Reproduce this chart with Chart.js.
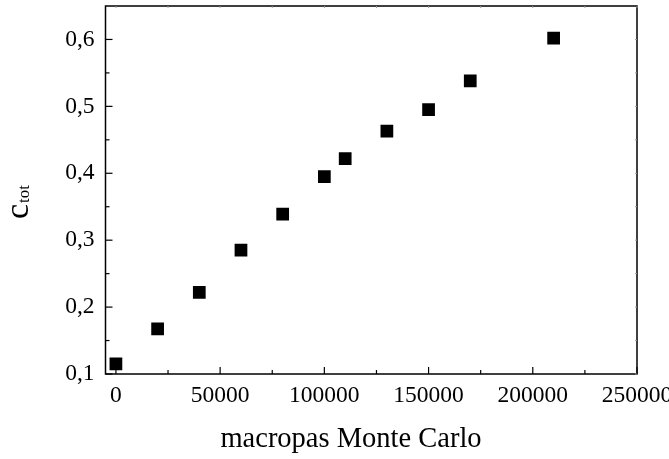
<!DOCTYPE html>
<html>
<head>
    <title>c_tot vs macropas Monte Carlo</title>
    <script src="https://cdn.jsdelivr.net/npm/chart.js"></script>
    <style>
        body { margin: 0; background: #fff; }
        .chart-box { width: 669px; height: 459px; position: relative; }
    </style>
</head>
<body>
    <div class="chart-box">
        <canvas id="ctotChart"></canvas>
    </div>

    <script>
        // data
        const macropas = [0, 20000, 40000, 60000, 80000, 100000, 110000, 130000, 150000, 170000, 210000];
        const cTot = [0.115, 0.1675, 0.222, 0.285, 0.339, 0.395, 0.422, 0.463, 0.495, 0.538, 0.602];

        const xTickValues = [0, 50000, 100000, 150000, 200000, 250000];
        const xMinorValues = [25000, 75000, 125000, 175000, 225000];
        const yTickValues = [0.1, 0.2, 0.3, 0.4, 0.5, 0.6];
        const yMinorValues = [0.15, 0.25, 0.35, 0.45, 0.55];

        const xTitle = 'macropas Monte Carlo';
        const yTitleMain = 'c';
        const yTitleSub = 'tot';

        const serif = "'Liberation Serif', 'Times New Roman', serif";

        // frame, inward ticks and axis titles
        const framePlugin = {
            id: 'frame',
            afterDraw(chart) {
                const ctx = chart.ctx;
                const a = chart.chartArea;
                const xs = chart.scales.x;
                const ys = chart.scales.y;
                ctx.save();
                ctx.strokeStyle = '#000';
                ctx.lineWidth = 1.5;
                ctx.strokeRect(a.left, a.top, a.right - a.left, a.bottom - a.top);

                ctx.lineWidth = 1.2;
                function tickX(v, len, lenTop) {
                    const px = xs.getPixelForValue(v);
                    ctx.beginPath();
                    ctx.moveTo(px, a.bottom); ctx.lineTo(px, a.bottom - len);
                    ctx.moveTo(px, a.top); ctx.lineTo(px, a.top + lenTop);
                    ctx.stroke();
                }
                function tickY(v, len, lenRight) {
                    const py = ys.getPixelForValue(v);
                    ctx.beginPath();
                    ctx.moveTo(a.left, py); ctx.lineTo(a.left + len, py);
                    ctx.moveTo(a.right, py); ctx.lineTo(a.right - lenRight, py);
                    ctx.stroke();
                }
                ctx.strokeStyle = '#000';
                xTickValues.forEach(v => tickX(v, 7, 0));
                xMinorValues.forEach(v => tickX(v, 4, 0));
                yTickValues.forEach(v => tickY(v, 7, 0));
                yMinorValues.forEach(v => tickY(v, 4, 0));
                // faint mirrored ticks on top and right
                ctx.strokeStyle = '#999';
                ctx.lineWidth = 1;
                xTickValues.concat(xMinorValues).forEach(v => tickX(v, 0, 2));
                yTickValues.concat(yMinorValues).forEach(v => tickY(v, 0, 2));

                // x title
                ctx.fillStyle = '#000';
                ctx.font = '28.5px ' + serif;
                ctx.textAlign = 'center';
                ctx.textBaseline = 'alphabetic';
                ctx.fillText(xTitle, 351, 447);

                // y title with subscript
                ctx.translate(28, 219);
                ctx.rotate(-Math.PI / 2);
                ctx.textAlign = 'left';
                ctx.font = '34px ' + serif;
                ctx.fillText(yTitleMain, 0, 0);
                const w = ctx.measureText(yTitleMain).width;
                ctx.font = '17px ' + serif;
                ctx.fillText(yTitleSub, w + 1, 1);
                ctx.restore();
            }
        };

        const ctx = document.getElementById('ctotChart').getContext('2d');
        new Chart(ctx, {
            type: 'scatter',
            data: {
                datasets: [{
                    data: macropas.map((x, i) => ({ x: x, y: cTot[i] })),
                    pointStyle: 'rect',
                    pointRadius: 9,
                    pointHoverRadius: 9,
                    backgroundColor: '#000',
                    borderColor: '#000',
                    borderWidth: 0
                }]
            },
            options: {
                responsive: true,
                maintainAspectRatio: false,
                animation: false,
                layout: { autoPadding: false, padding: { top: 6, right: 32, left: 0, bottom: 0 } },
                plugins: {
                    legend: { display: false },
                    tooltip: { enabled: false }
                },
                scales: {
                    x: {
                        type: 'linear',
                        min: -5000,
                        max: 250000,
                        grid: { display: false, drawTicks: false },
                        border: { display: false },
                        afterBuildTicks: s => { s.ticks = xTickValues.map(v => ({ value: v })); },
                        afterFit: s => { s.height = 85; s.paddingLeft = 0; s.paddingRight = 0; },
                        ticks: {
                            padding: 8,
                            maxRotation: 0,
                            autoSkip: false,
                            color: '#000',
                            font: { family: serif, size: 23.5 },
                            callback: v => String(v)
                        }
                    },
                    y: {
                        min: 0.1,
                        max: 0.65,
                        grid: { display: false, drawTicks: false },
                        border: { display: false },
                        afterBuildTicks: s => { s.ticks = yTickValues.map(v => ({ value: v })); },
                        afterFit: s => { s.width = 105.5; s.paddingTop = 0; s.paddingBottom = 0; },
                        ticks: {
                            padding: 11,
                            autoSkip: false,
                            color: '#000',
                            font: { family: serif, size: 23.5 },
                            callback: v => v.toFixed(1).replace('.', ',')
                        }
                    }
                }
            },
            plugins: [framePlugin]
        });
    </script>
</body>
</html>
